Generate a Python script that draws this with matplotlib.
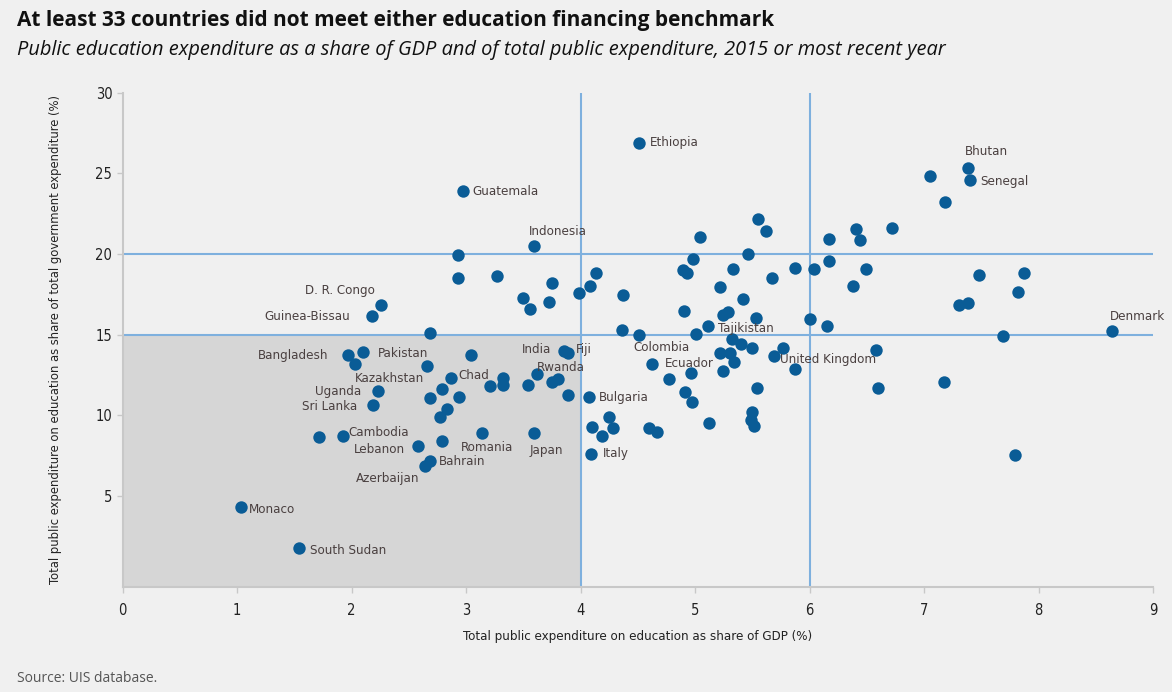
import matplotlib
matplotlib.use("Agg")
import matplotlib.pyplot as plt
from matplotlib import font_manager

# labelled countries: GDP share, share of total public expenditure
lab_names = ["Ethiopia", "Guatemala", "Indonesia", "D. R. Congo", "Guinea-Bissau",
             "Bangladesh", "Pakistan", "Kazakhstan", "Chad", "Uganda", "Sri Lanka",
             "Cambodia", "Lebanon", "Bahrain", "Azerbaijan", "Romania", "Monaco",
             "South Sudan", "India", "Fiji", "Rwanda", "Japan", "Bulgaria", "Italy",
             "Colombia", "Ecuador", "Tajikistan", "United Kingdom", "Bhutan",
             "Senegal", "Denmark"]
lab_gdp = [4.51, 2.97, 3.59, 2.26, 2.18, 1.97, 2.10, 2.79, 2.87, 2.23, 2.19,
           1.92, 2.58, 2.68, 2.64, 3.14, 1.03, 1.54, 3.85, 3.89, 3.62, 3.59,
           4.07, 4.09, 4.51, 4.62, 5.11, 5.69, 7.38, 7.40, 8.64]
lab_share = [26.9, 23.9, 20.47, 16.86, 16.13, 13.72, 13.93, 11.6, 12.28, 11.49, 10.64,
             8.70, 8.11, 7.17, 6.85, 8.87, 4.30, 1.77, 13.99, 13.88, 12.54, 8.87,
             11.11, 7.60, 15.0, 13.2, 15.52, 13.69, 25.34, 24.57, 15.2]

# other countries
gdp = [2.68, 2.93, 2.93, 3.27, 3.50, 3.56, 3.75, 3.72, 3.985, 4.08, 4.13, 4.37, 4.36,
       4.89, 4.93, 4.98, 5.04, 4.90, 5.01, 5.22, 5.33, 5.46, 5.55, 5.62, 5.42, 5.24,
       5.29, 5.53, 5.67, 5.87, 6.00, 6.04, 6.17, 6.17, 6.15, 6.40, 6.44, 6.49, 6.38,
       6.72, 7.05, 7.18, 7.48, 7.87, 7.82, 7.30, 7.38, 7.69, 6.58, 6.60, 7.17, 7.79,
       4.25, 4.10, 4.28, 4.19, 4.60, 4.67, 4.77, 4.96, 4.91, 4.97, 5.12, 5.22, 5.30,
       5.24, 5.34, 5.32, 5.40, 5.50, 5.54, 5.50, 5.49, 5.51, 5.77, 5.87,
       2.03, 2.66, 3.04, 2.94, 2.68, 2.83, 2.77, 3.21, 1.71, 2.79,
       3.75, 3.80, 3.54, 3.32, 3.32, 3.89]
share = [15.1, 19.96, 18.5, 18.6, 17.28, 16.58, 18.18, 17.0, 17.57, 17.98, 18.83, 17.43, 15.28,
         18.99, 18.8, 19.71, 21.07, 16.48, 15.03, 17.93, 19.05, 20.02, 22.19, 21.42, 17.19, 16.23,
         16.40, 16.0, 18.48, 19.15, 15.95, 19.07, 19.58, 20.94, 15.52, 21.54, 20.86, 19.05, 17.98,
         21.61, 24.81, 23.24, 18.71, 18.79, 17.65, 16.82, 16.94, 14.9, 14.01, 11.66, 12.07, 7.55,
         9.87, 9.25, 9.19, 8.72, 9.23, 8.98, 12.26, 12.6, 11.43, 10.79, 9.49, 13.85, 13.88,
         12.73, 13.31, 14.7, 14.42, 14.17, 11.71, 10.19, 9.72, 9.30, 14.17, 12.88,
         13.18, 13.03, 13.74, 11.11, 11.09, 10.36, 9.89, 11.81, 8.62, 8.41,
         12.07, 12.22, 11.86, 12.31, 11.9, 11.28]

# label placement: offset in pixels and alignment
lab_dx = [11, 10, 24, -7, -22, -20, 15, -18, 7, -17, -16,
          6, -13, 9, -6, 5, 8, 11, -12, 8, 0, 13, 10, 12,
          22, 13, 10, 6, -3, 10, -2]
lab_dy = [0, 0, 15, 14, 0, 0, -2, 11, 3, 0, -2,
          4, -4, -1, -13, -14, -2, -3, 1, 3, 7, -17, 0, 0,
          -13, 0, -2, -4, 16, -1, 15]
lab_ha = ["left", "left", "center", "right", "right", "right", "left", "right", "left",
          "right", "right", "left", "right", "left", "right", "center", "left", "left",
          "right", "left", "left", "center", "left", "left", "center", "left", "left",
          "left", "left", "left", "left"]

# pick a narrow face if one is installed
narrow_file = None
for f in font_manager.fontManager.ttflist:
    if f.name == "Liberation Sans Narrow" and f.style == "normal" and f.weight in (400, "normal", "regular"):
        narrow_file = f.fname
        break
if narrow_file is None:
    for f in font_manager.fontManager.ttflist:
        if f.name == "DejaVu Sans" and f.stretch == "condensed" and f.style == "normal" and f.weight in (400, "normal", "book", "regular"):
            narrow_file = f.fname
            break

def nfont(size, bold=False):
    if narrow_file:
        fp = font_manager.FontProperties(fname=narrow_file, size=size)
    else:
        fp = font_manager.FontProperties(family="Roboto", size=size * 0.92)
    if bold:
        fp.set_weight("bold")
    return fp

bg = "#f0f0f0"
dot = "#0a5c96"
guide = "#7eb0de"

fig = plt.figure(figsize=(11.72, 6.92), dpi=100, facecolor=bg)
ax = fig.add_axes([0.1047, 0.152, 0.8793, 0.714], facecolor=bg)
ax.set_xlim(0, 9)
ax.set_ylim(-0.65, 30)

ax.fill_between([0, 4], -0.65, 15, color="#d6d6d6", zorder=0, lw=0)
ax.plot([0, 9], [15, 15], color=guide, lw=1.5, zorder=1)
ax.plot([0, 9], [20, 20], color=guide, lw=1.5, zorder=1)
ax.axvline(4, color=guide, lw=1.5, zorder=1)
ax.axvline(6, color=guide, lw=1.5, zorder=1)

ax.scatter(gdp, share, s=80, color=dot, zorder=3, lw=0)
ax.scatter(lab_gdp, lab_share, s=80, color=dot, zorder=3, lw=0)

for name, x, y, dx, dy, ha in zip(lab_names, lab_gdp, lab_share, lab_dx, lab_dy, lab_ha):
    ax.annotate(name, (x, y), xytext=(dx, dy), textcoords="offset pixels",
                ha=ha, va="center", fontproperties=nfont(9.5), color="#4a4040", zorder=4)

for s in ["top", "right"]:
    ax.spines[s].set_visible(False)
for s in ["left", "bottom"]:
    ax.spines[s].set_color("#c8c8c8")
    ax.spines[s].set_linewidth(1.5)

ax.set_xticks(range(0, 10))
ax.set_yticks([5, 10, 15, 20, 25, 30])
ax.tick_params(colors="#c8c8c8", labelcolor="#222222", length=4, width=1)
for t in ax.get_xticklabels() + ax.get_yticklabels():
    t.set_fontproperties(nfont(10.5, bold=True))
ax.tick_params(axis="x", pad=8)

ax.set_xlabel("Total public expenditure on education as share of GDP (%)",
              fontproperties=nfont(9.5), color="#222222", labelpad=8)
ax.set_ylabel("Total public expenditure on education as share of total government expenditure (%)",
              fontproperties=nfont(9.3), color="#222222", labelpad=24)

fig.text(0.0145, 0.971, "At least 33 countries did not meet either education financing benchmark",
         fontsize=15, fontweight="bold", color="#111111", va="center", family="Open Sans")
fig.text(0.0145, 0.928, "Public education expenditure as a share of GDP and of total public expenditure, 2015 or most recent year",
         fontsize=14.4, style="italic", color="#111111", va="center", family="Open Sans")
fig.text(0.0145, 0.02, "Source: UIS database.", fontsize=10, color="#555555", va="center", family="Open Sans")

fig.savefig("out.png", dpi=100, facecolor=bg)
